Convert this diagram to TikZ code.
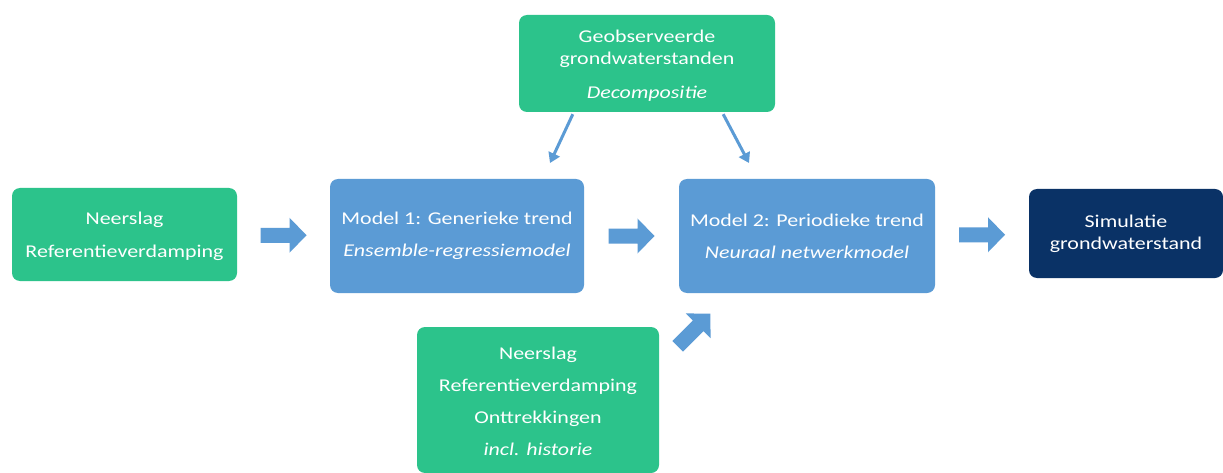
\documentclass[tikz,border=0pt]{standalone}
\usepackage{fontspec}
\setmainfont{Carlito}[FakeStretch=1.22]
\usetikzlibrary{arrows.meta,calc}
\definecolor{grn}{HTML}{2CC38B}
\definecolor{blu}{HTML}{5B9BD5}
\definecolor{navy}{HTML}{0A3266}
\newcommand\blockarrow[2]{%
  \fill[blu, shift={#1}, rotate=#2] (-23,-7.5) -- (6,-7.5) -- (6,-17.5) -- (23,0)
    -- (6,17.5) -- (6,7.5) -- (-23,7.5) -- cycle;}
\begin{document}
\begin{tikzpicture}[x=1pt,y=-1pt,
  box/.style={rounded corners=8pt, text=white, align=center, inner sep=0pt,
    font=\fontsize{18}{22}\selectfont},
  gbox/.style={box, fill=grn},
  bbox/.style={box, fill=blu},
  nbox/.style={box, fill=navy},
  thin/.style={draw=blu, line width=3pt, -{Triangle[length=10pt,width=12pt]}}
]
\useasboundingbox (0,0) rectangle (1223,473);
\fill[white] (0,0) rectangle (1223,473);
\node[gbox, minimum width=256pt, minimum height=97pt] (obs) at (647,63.5)
  {\rule{0pt}{16pt}Geobserveerde\\grondwaterstanden\\[12pt]\textit{Decompositie}};
\node[gbox, minimum width=225pt, minimum height=93pt] (in1) at (124.5,234.5)
  {\rule{0pt}{16pt}Neerslag\\[11pt]Referentieverdamping};
\node[bbox, minimum width=254pt, minimum height=114pt] (m1) at (457,236)
  {Model 1: Generieke trend\\[10pt]\textit{Ensemble-regressiemodel}};
\node[bbox, minimum width=256pt, minimum height=114pt] (m2) at (807,236)
  {Model 2: Periodieke trend\\[10pt]\textit{Neuraal netwerkmodel}};
\node[nbox, minimum width=194pt, minimum height=89pt] (sim) at (1126,233.5)
  {Simulatie\\grondwaterstand};
\node[gbox, minimum width=242pt, minimum height=146pt] (in2) at (538,400)
  {\rule{0pt}{16pt}Neerslag\\[10pt]Referentieverdamping\\[10pt]Onttrekkingen\\[10pt]\textit{incl. historie}};
% block arrows
\coordinate (a1) at ($(in1.east)!0.5!(m1.west)$);
\coordinate (a2) at ($(m1.east)!0.5!(m2.west)$);
\coordinate (a3) at ($(m2.east)!0.5!(sim.west)$);
\coordinate (a4) at (694,330);
\blockarrow{(a1)}{0}
\blockarrow{(a2)}{0}
\blockarrow{(a3)}{0}
\blockarrow{(a4)}{45}
% thin arrows
\coordinate (t1) at (550,163);
\coordinate (t2) at (749,163);
\draw[thin] (obs.south west) ++(54,2) -- (t1);
\draw[thin] (obs.south east) ++(-52,2) -- (t2);
\end{tikzpicture}
\end{document}
